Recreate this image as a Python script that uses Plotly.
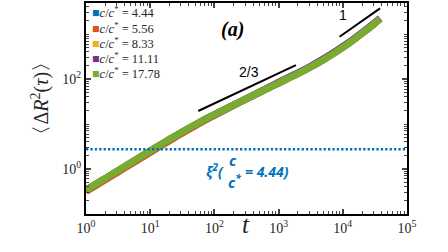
import plotly.graph_objects as go

# ---- data ----
t = [1, 1.5, 2, 3, 5, 7, 10, 15, 20, 30, 50, 70, 100, 150, 200, 300, 500, 700,
     1000, 1500, 2000, 3000, 5000, 7000, 10000, 15000, 20000, 30000, 38000]
msd_444 = [0.329, 0.468, 0.600, 0.855, 1.333, 1.786, 2.437, 3.458, 4.423, 6.234,
           9.371, 12.13, 15.77, 21.20, 26.22, 35.16, 50.23, 63.53, 81.66, 108.4,
           132.4, 178.2, 269.8, 363.1, 508.2, 763.8, 1038, 1637, 2168]
msd_556 = [0.315, 0.448, 0.576, 0.819, 1.278, 1.712, 2.336, 3.315, 4.241, 5.977,
           9.081, 11.88, 15.61, 20.98, 25.96, 34.81, 50.23, 63.53, 81.66, 108.4,
           132.4, 178.2, 269.8, 363.1, 508.2, 763.8, 1038, 1637, 2168]
msd_833 = [0.339, 0.482, 0.619, 0.881, 1.374, 1.841, 2.512, 3.565, 4.560, 6.427,
           9.661, 12.50, 16.26, 21.63, 26.49, 35.16, 50.73, 64.17, 82.48, 109.5,
           133.7, 180.0, 272.5, 366.7, 513.3, 771.4, 1048, 1653, 2190]
msd_1111 = [0.339, 0.482, 0.619, 0.881, 1.374, 1.841, 2.512, 3.565, 4.560, 6.427,
            9.661, 12.50, 16.26, 21.63, 26.49, 35.16, 51.23, 65.44, 84.93, 112.7,
            137.7, 185.3, 280.6, 377.6, 528.5, 794.4, 1080, 1702, 2255]
msd_1778 = [0.339, 0.482, 0.619, 0.881, 1.374, 1.841, 2.512, 3.565, 4.560, 6.427,
            9.661, 12.50, 16.26, 21.63, 26.49, 35.16, 50.23, 63.53, 81.66, 108.4,
            132.4, 178.2, 269.8, 363.1, 508.2, 763.8, 1038, 1637, 2168]
series_labels = ["4.44", "5.56", "8.33", "11.11", "17.78"]
series_values = [msd_444, msd_556, msd_833, msd_1111, msd_1778]
colors = ["#0072BD", "#D95319", "#EDB120", "#7E2F8E", "#77AC30"]

xi2_t = [1, 1e5]
xi2_val = [2.75, 2.75]

guide23_t = [56, 1860]
guide23_y = [19.5, 204]
guide1_t = [8900, 38000]
guide1_y = [871, 3715]

xtick_vals = [1, 10, 100, 1000, 10000, 100000]
xtick_text = ["10<sup>0</sup>", "10<sup>1</sup>", "10<sup>2</sup>", "10<sup>3</sup>",
              "10<sup>4</sup>", "10<sup>5</sup>"]
ytick_vals = [1, 100]
ytick_text = ["10<sup>0</sup>", "10<sup>2</sup>"]

# ---- figure ----
W, H = 448, 252
L, R, T, B = 86, 41, 3, 38
pw, ph = W - L - R, H - T - B


def px(x):
    return (x - L) / pw


def py(y):
    return (H - B - y) / ph


fig = go.Figure()
for lab, vals, col in zip(series_labels, series_values, colors):
    fig.add_trace(go.Scatter(x=t, y=vals, mode="lines",
                             line=dict(color=col, width=7, shape="spline", smoothing=0.6),
                             showlegend=False, name=lab))

fig.add_trace(go.Scatter(x=xi2_t, y=xi2_val, mode="lines",
                         line=dict(color="#0072BD", width=2.6, dash="2.3px,2.1px"),
                         showlegend=False))
fig.add_trace(go.Scatter(x=guide23_t, y=guide23_y, mode="lines",
                         line=dict(color="black", width=2), showlegend=False))
fig.add_trace(go.Scatter(x=guide1_t, y=guide1_y, mode="lines",
                         line=dict(color="black", width=2), showlegend=False))

serif = "Liberation Serif"
minor_vals = [m * 10 ** k for k in range(-1, 6) for m in range(1, 10)
              if not (m == 1 and k in (0, 2))]

common = dict(type="log", tickmode="array", ticks="inside", ticklen=5, tickwidth=1.5,
              showline=True, linewidth=2, linecolor="black", mirror="allticks",
              showgrid=False, zeroline=False, automargin=False,
              tickfont=dict(family=serif, size=14, color="#262626"),
              minor=dict(tickvals=minor_vals, ticks="inside", ticklen=3,
                         tickwidth=1.2, showgrid=False))
fig.update_xaxes(range=[0, 5], tickvals=xtick_vals, ticktext=xtick_text, **common)
fig.update_yaxes(range=[-1, 3.69], tickvals=ytick_vals, ticktext=ytick_text, **common)

ann = []
# legend drawn as text
leg_y = [12.5, 27.5, 42.5, 58, 73]
for lab, col, yy in zip(series_labels, colors, leg_y):
    ann.append(dict(xref="paper", yref="paper", x=px(90), y=py(yy), xanchor="left",
                    yanchor="middle", showarrow=False,
                    text=f"<span style='color:{col}'>■</span><i>c</i>/<i>c</i><sup>*</sup> = {lab}",
                    font=dict(family=serif, size=12.5, color="#262626")))
ann.append(dict(xref="paper", yref="paper", x=px(232), y=py(16), showarrow=False,
                text="<b><i>(a)</i></b>", font=dict(family=serif, size=20, color="black")))
ann.append(dict(x=2.54, y=2.16, xref="x", yref="y", showarrow=False, text="2/3",
                font=dict(family="Liberation Sans", size=14, color="black")))
ann.append(dict(x=4.0, y=3.42, xref="x", yref="y", showarrow=False, text="1",
                font=dict(family="Liberation Sans", size=14, color="black")))
# xi^2 label
blue = "#0072BD"
fxi = dict(family="Open Sans", size=14, color=blue)
ann.append(dict(xref="paper", yref="paper", x=px(204), y=py(170.5), xanchor="left",
                yanchor="middle", showarrow=False, text="<b><i>ξ<sup>2</sup>(</i></b>", font=fxi))
ann.append(dict(xref="paper", yref="paper", x=px(232.5), y=py(160), xanchor="center",
                yanchor="middle", showarrow=False, text="<b><i>c</i></b>",
                font=dict(family="Open Sans", size=15, color=blue)))
ann.append(dict(xref="paper", yref="paper", x=px(234.5), y=py(181), xanchor="center",
                yanchor="middle", showarrow=False, text="<b><i>c<sup>*</sup></i></b>",
                font=dict(family="Open Sans", size=15, color=blue)))
ann.append(dict(xref="paper", yref="paper", x=px(242.5), y=py(171.5), xanchor="left",
                yanchor="middle", showarrow=False, text="<b><i>= 4.44)</i></b>", font=fxi))
# axis titles
ann.append(dict(xref="paper", yref="paper", x=px(25), y=py(98), showarrow=False,
                textangle=-90, text="〈Δ<i>R</i><sup>2</sup>(<i>τ</i>)〉",
                font=dict(family=serif, size=20, color="#262626")))
ann.append(dict(xref="paper", yref="paper", x=px(246), y=py(240), showarrow=False,
                text="<i>t</i>", font=dict(family=serif, size=25, color="#262626")))

fig.update_layout(width=W, height=H, margin=dict(l=L, r=R, t=T, b=B),
                  paper_bgcolor="white", plot_bgcolor="white", annotations=ann,
                  showlegend=False)
fig.write_html("out.html", post_script="document.body.style.margin='0';",
               config={"displayModeBar": False})
